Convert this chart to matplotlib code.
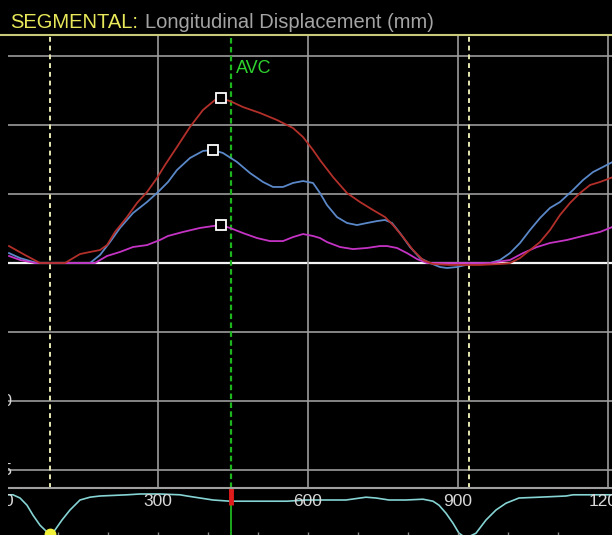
import numpy as np
import matplotlib
matplotlib.use("Agg")
import matplotlib.pyplot as plt
from matplotlib.lines import Line2D
from matplotlib.patches import Rectangle

# ---- segmental longitudinal displacement traces (time in ms, displacement in mm) ----
t_red = [2, 34, 64, 114, 124, 144, 164, 184, 198, 214, 238, 258, 278, 298, 314, 338, 364,
         390, 414, 426, 448, 470, 504, 538, 570, 590, 610, 624, 650, 678, 704, 730, 754,
         770, 790, 810, 830, 850, 884, 944, 984, 1004, 1024, 1044, 1064, 1084, 1104, 1124,
         1144, 1164, 1184, 1208]
d_red = [1.23, 0.58, 0.0, 0.0, 0.22, 0.65, 0.80, 0.94, 1.30, 2.25, 3.33, 4.35, 5.14, 6.16,
         7.10, 8.41, 9.86, 11.09, 11.81, 11.96, 11.67, 11.30, 10.87, 10.36, 9.78, 9.13,
         8.19, 7.46, 6.23, 5.07, 4.42, 3.84, 3.33, 2.75, 1.88, 0.94, 0.22, -0.07, -0.14,
         -0.14, -0.07, 0.0, 0.36, 0.94, 1.52, 2.39, 3.48, 4.35, 5.07, 5.65, 5.87, 6.20]

t_blue = [2, 24, 58, 164, 184, 204, 224, 250, 278, 300, 320, 338, 364, 390, 410, 430, 458,
          484, 510, 530, 550, 570, 590, 610, 624, 638, 658, 678, 698, 718, 738, 754, 768,
          784, 804, 824, 844, 864, 878, 898, 924, 964, 984, 1004, 1024, 1044, 1064, 1084,
          1104, 1130, 1150, 1170, 1190, 1208]
d_blue = [0.72, 0.36, 0.0, 0.0, 0.58, 1.52, 2.54, 3.62, 4.42, 5.14, 5.87, 6.74, 7.61, 8.12,
          8.19, 7.97, 7.32, 6.52, 5.87, 5.51, 5.51, 5.80, 5.94, 5.80, 5.07, 4.20, 3.33,
          2.90, 2.75, 2.90, 3.04, 3.12, 2.90, 2.17, 1.16, 0.36, 0.0, -0.29, -0.36, -0.29,
          -0.07, 0.0, 0.22, 0.72, 1.45, 2.39, 3.26, 3.99, 4.42, 5.29, 6.01, 6.59, 6.96, 7.30]

t_mag = [2, 24, 54, 174, 198, 224, 250, 278, 304, 320, 350, 384, 410, 426, 444, 470, 498,
         524, 550, 570, 590, 610, 624, 638, 664, 690, 718, 744, 758, 778, 798, 818, 838,
         964, 1004, 1030, 1058, 1084, 1118, 1150, 1184, 1208]
d_mag = [0.51, 0.22, 0.0, 0.0, 0.51, 0.80, 1.16, 1.30, 1.67, 1.96, 2.25, 2.54, 2.68, 2.75,
         2.54, 2.17, 1.81, 1.59, 1.59, 1.88, 2.10, 1.96, 1.81, 1.52, 1.16, 1.01, 1.09,
         1.23, 1.23, 1.09, 0.72, 0.29, 0.0, 0.0, 0.22, 0.72, 1.16, 1.45, 1.67, 1.96,
         2.25, 2.60]

# ---- ECG strip (time in ms, amplitude in mV) ----
t_ecg = [0, 10, 24, 38, 50, 64, 78, 84, 94, 108, 124, 144, 164, 184, 238, 264, 304, 344,
         358, 384, 410, 444, 464, 518, 558, 596, 676, 716, 736, 762, 796, 830, 850, 862,
         876, 890, 902, 916, 936, 956, 976, 996, 1022, 1062, 1116, 1130, 1170, 1208]
v_ecg = [0.03, 0.03, -0.05, -0.23, -0.48, -0.73, -0.90, -0.95, -0.85, -0.60, -0.35, -0.10,
         -0.03, 0.0, 0.03, 0.05, 0.05, 0.03, 0.0, -0.05, -0.10, -0.13, -0.13, -0.13, -0.13,
         -0.10, -0.10, -0.03, -0.05, -0.10, -0.10, -0.08, -0.13, -0.23, -0.43, -0.68,
         -0.93, -1.05, -0.93, -0.60, -0.35, -0.18, -0.05, -0.03, 0.0, 0.03, 0.03, 0.03]

# ---- timing events (ms) ----
avc_time = 446
event_times = [84, 922]
ecg_marker_time = 84

grid_ms = [300, 600, 900, 1200]
grid_mm = [-15, -10, -5, 5, 10, 15]
axis_tick_ms = [0, 300, 600, 900, 1200]
axis_tick_labels = ["0", "300", "600", "900", "1200"]
side_labels_mm = [-10, -15]

W, H = 612, 535


def fx(px):
    return px / W


def fy(py):
    return 1 - py / H


fig = plt.figure(figsize=(W / 100, H / 100), dpi=100, facecolor="black")

# main displacement panel
ax = fig.add_axes([fx(8), fy(488), fx(604), (488 - 35) / H])
ax.set_facecolor("black")
ax.set_xlim(0, 1208)
ax.set_ylim(-16.30, 16.52)
ax.axis("off")

for v in grid_mm:
    ax.axhline(v, color="#9c9c9c", lw=1.2, zorder=1)
ax.axhline(0, color="#f4f4f4", lw=1.6, zorder=1)
for t in grid_ms:
    ax.axvline(t, color="#9c9c9c", lw=1.2, zorder=1)
for t in event_times:
    ax.axvline(t, color="#e8e8b0", lw=1.4, dashes=(2.5, 2.0), zorder=2)
ax.axvline(avc_time, color="#1fb51f", lw=1.6, dashes=(2.5, 1.5), zorder=2)
ax.text(456, 14.1, "AVC", color="#2ed42e", fontsize=13, ha="left", va="center",
        family="Liberation Sans")

traces = [
    (t_blue, d_blue, "#5a88c8"),
    (t_mag, d_mag, "#c533c5"),
    (t_red, d_red, "#b3302a"),
]
for tt, dd, col in traces:
    ax.plot(tt, dd, color=col, lw=1.3, zorder=3)
for tt, dd, col in traces:
    i = int(np.argmax(dd))
    ax.plot(tt[i], dd[i], marker="s", ms=6.5, mfc="black", mec="white", mew=1.3,
            zorder=5, linestyle="none")

for v in side_labels_mm:
    ax.text(8, v, f"{v}", ha="right", va="center", color="#d8d8d8", fontsize=12,
            family="Liberation Sans", clip_on=False)

# ECG strip
ax2 = fig.add_axes([fx(8), 0, fx(604), 47 / H])
ax2.set_facecolor("black")
ax2.set_xlim(0, 1208)
ax2.set_ylim(-0.975, 0.2)
ax2.axis("off")
ax2.plot(t_ecg, v_ecg, color="#86d4d4", lw=1.2, zorder=2)
ax2.axvline(avc_time, color="#1fb51f", lw=1.3, zorder=3)
ax2.plot([avc_time, avc_time], [0.2, -0.225], color="#e01c1c", lw=3.5,
         solid_capstyle="butt", zorder=4)
i_m = t_ecg.index(ecg_marker_time)
ax2.plot(t_ecg[i_m], v_ecg[i_m], marker="o", ms=7.5, mfc="#f2f23a", mec="#f2f23a",
         zorder=5, clip_on=False)
for t, lab in zip(axis_tick_ms, axis_tick_labels):
    ax2.text(t, -0.125, lab, ha="center", va="center", color="#d8d8d8", fontsize=12.5,
             family="Liberation Sans", zorder=6, clip_on=False)
ax2.vlines(np.arange(100, 1200, 100), -0.975, -0.9, color="#8a8a8a", lw=1.0)

# panel borders
fig.add_artist(Line2D([fx(8), 1], [fy(488), fy(488)], color="#a0a0a0", lw=1.5))
fig.add_artist(Line2D([0, 1], [fy(35), fy(35)], color="#c9c97a", lw=1.5, zorder=12))

# black left margin hides the overflow of the axis labels
fig.add_artist(Rectangle((0, 0), fx(8), fy(37), transform=fig.transFigure,
                         facecolor="black", edgecolor="none", zorder=10))

# title
t1 = fig.text(fx(10), fy(28), "SEGMENTAL:", color="#e8e85a", fontsize=14.5,
              family="Liberation Sans", va="baseline", ha="left")
renderer = fig.canvas.get_renderer()
bb = t1.get_window_extent(renderer)
fig.text((bb.x1 + 7) / W, fy(28), "Longitudinal Displacement (mm)", color="#a4a4a4",
         fontsize=14.5, family="Liberation Sans", va="baseline", ha="left")

fig.savefig("out.png", dpi=100, facecolor="black")
